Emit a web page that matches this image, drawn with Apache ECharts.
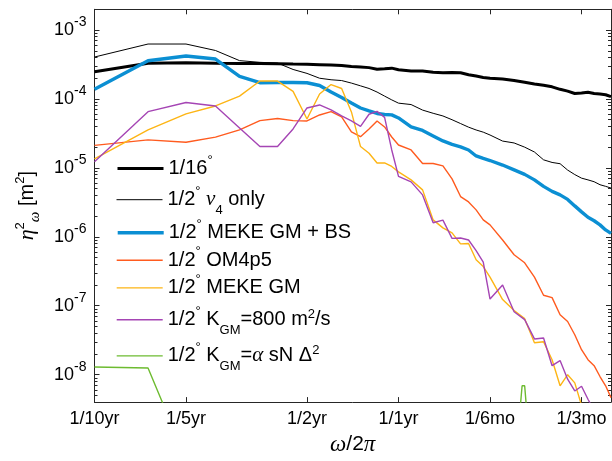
<!DOCTYPE html>
<html><head><meta charset="utf-8">
<script src="https://cdn.jsdelivr.net/npm/echarts@6/dist/echarts.min.js"></script>
<style>html,body{margin:0;padding:0;background:#fff}#c{width:612px;height:461px}</style>
</head><body><div id="c"></div>
<script>
// ---------- data (frequency in cycles per year, spectra in m^2) ----------
const freq = [0.1,0.15,0.2,0.25,0.3,0.35,0.4,0.45,0.5,0.55,0.6,0.65,0.7,0.75,0.8,0.85,0.9,0.95,1.0,
  1.1,1.2,1.3,1.4,1.5,1.6,1.7,1.8,1.9,2.0,
  2.2,2.4,2.6,2.8,3.0,3.2,3.4,3.6,3.8,4.0,4.2,4.4,4.6,4.8,5.0];
const res16 = [2.49e-4,3.3e-4,3.35e-4,3.3e-4,3.28e-4,3.27e-4,3.25e-4,3.22e-4,3.2e-4,3.15e-4,3.1e-4,3.05e-4,2.95e-4,2.9e-4,2.85e-4,2.7e-4,2.75e-4,2.8e-4,2.65e-4,
  2.55e-4,2.55e-4,2.45e-4,2.4e-4,2.42e-4,2.4e-4,2.25e-4,2.15e-4,2.05e-4,2.0e-4,
  1.95e-4,1.85e-4,1.75e-4,1.65e-4,1.58e-4,1.5e-4,1.38e-4,1.3e-4,1.2e-4,1.22e-4,1.25e-4,1.2e-4,1.18e-4,1.15e-4,1.08e-4];
const nu4Only = [4.06e-4,6.27e-4,6.27e-4,5.05e-4,3.6e-4,3.4e-4,3.32e-4,2.68e-4,2.35e-4,2.0e-4,1.9e-4,1.85e-4,1.7e-4,1.55e-4,1.42e-4,1.26e-4,1.1e-4,9.7e-5,8.7e-5,
  8.3e-5,6.9e-5,6.2e-5,5.67e-5,5.0e-5,4.4e-5,3.9e-5,3.55e-5,3.3e-5,3.0e-5,
  2.45e-5,2.3e-5,2.0e-5,1.7e-5,1.31e-5,1.2e-5,1.15e-5,9.3e-6,8.0e-6,7.1e-6,6.7e-6,6.3e-6,5.7e-6,5.4e-6,5.1e-6];
const mekeGmBs = [1.38e-4,3.59e-4,4.2e-4,3.8e-4,2.12e-4,1.72e-4,1.73e-4,1.73e-4,1.72e-4,1.57e-4,1.26e-4,1.05e-4,8.75e-5,7.4e-5,6.7e-5,6.16e-5,5.96e-5,5.87e-5,5.3e-5,
  3.93e-5,3.49e-5,2.91e-5,2.46e-5,2.19e-5,2.02e-5,1.82e-5,1.49e-5,1.37e-5,1.28e-5,
  1.1e-5,9.35e-6,8.05e-6,6.7e-6,5.4e-6,4.56e-6,4.06e-6,3.49e-6,2.81e-6,2.3e-6,1.92e-6,1.71e-6,1.49e-6,1.26e-6,1.12e-6];
const om4p5 = [2.12e-5,2.55e-5,2.36e-5,2.79e-5,3.56e-5,4.85e-5,5.22e-5,4.85e-5,4.8e-5,5.86e-5,6.55e-5,5.48e-5,3.32e-5,2.84e-5,3.67e-5,4.8e-5,3.93e-5,2.81e-5,2.15e-5,
  1.82e-5,1.16e-5,1.16e-5,1.07e-5,6.93e-6,3.84e-6,3.21e-6,2.46e-6,1.76e-6,1.49e-6,
  9.0e-7,5.5e-7,4.2e-7,2.6e-7,1.42e-7,1.31e-7,7.4e-8,5.9e-8,3.8e-8,2.3e-8,1.65e-8,1.35e-8,9.4e-9,6.9e-9,4.65e-9];
const mekeGm = [1.35e-5,3.56e-5,6.07e-5,7.92e-5,1.1e-4,1.82e-4,1.82e-4,1.29e-4,5.13e-5,1.18e-4,1.62e-4,1.42e-4,6.49e-5,2.04e-5,1.63e-5,1.18e-5,1.18e-5,1.05e-5,8.75e-6,
  6.7e-6,4.8e-6,1.76e-6,1.35e-6,1.14e-6,7.9e-7,8.0e-7,4.65e-7,3.7e-7,2.6e-7,
  1.23e-7,8.5e-8,6.5e-8,2.9e-8,3.0e-8,1.65e-8,6.9e-9,1.0e-8,7.6e-9,3.6e-9,2.5e-9,2.0e-9,1.6e-9,1.3e-9,1.0e-9];
const kgm800 = [1.23e-5,6.55e-5,8.9e-5,7.92e-5,3.8e-5,2.04e-5,2.04e-5,3.67e-5,7.41e-5,8.19e-5,6.93e-5,5.67e-5,4.8e-5,4.0e-5,6.0e-5,6.6e-5,5.4e-5,1.82e-5,7.54e-6,
  6.27e-6,4.06e-6,1.6e-6,1.75e-6,9.5e-7,9.6e-7,9.0e-7,6.3e-7,4.3e-7,1.25e-7,
  2.0e-7,8.2e-8,6.3e-8,3.3e-8,3.4e-8,1.35e-8,1.6e-8,8.6e-9,5.8e-9,6.8e-9,4.4e-9,3.0e-9,2.2e-9,1.7e-9,1.3e-9];
const freqAlpha = [0.1,0.15,0.2,2.5,2.55,2.6,2.65];
const kgmAlpha = [1.29e-8,1.25e-8,6e-10,2.5e-9,6.9e-9,6.9e-9,2.5e-9];

const seriesNames = ['1/16','nu4 only','MEKE GM + BS','OM4p5','MEKE GM','KGM=800','KGM=alpha'];
const xTickVals = [0.1,0.2,0.5,1,2,4];
const xTickLabels = ['1/10yr','1/5yr','1/2yr','1/1yr','1/6mo','1/3mo'];
const yTickVals = [1e-8,1e-7,1e-6,1e-5,1e-4,1e-3];
const yTickExps = ['-8','-7','-6','-5','-4','-3'];

// ---------- styling ----------
const colors = ['#000000','#000000','#0B8FD3','#FF5B1F','#FDB515','#A545B4','#6DBB30'];
const widths = [3,1,3.4,1.4,1.4,1.4,1.4];
const legendTexts = [
  '{n|1/16}{deg|°}',
  '{n|1/2}{deg|°}{n| }{gi|ν}{sub|4}{n| only}',
  '{n|1/2}{deg|°}{n| MEKE GM + BS}',
  '{n|1/2}{deg|°}{n| OM4p5}',
  '{n|1/2}{deg|°}{n| MEKE GM}',
  '{n|1/2}{deg|°}{n| K}{sub|GM}{n|=800 m}{sup|2}{n|/s}',
  '{n|1/2}{deg|°}{n| K}{sub|GM}{n|=}{gi|α}{n| sN Δ}{sup|2}'
];
const legendCenters = [173.3,204.5,237.5,265,292.7,324.5,360.7];
const xData = [freq,freq,freq,freq,freq,freq,freqAlpha];
const yData = [res16,nu4Only,mekeGmBs,om4p5,mekeGm,kgm800,kgmAlpha];

const SANS = '"Liberation Sans", Arial, Helvetica, sans-serif';
const SERIF = '"Liberation Serif", "DejaVu Serif", serif';
const AX = '#262626';
const richLegend = {
  n:{fontSize:20,fontFamily:SANS,color:'#000',verticalAlign:'middle'},
  deg:{fontSize:13,fontFamily:SANS,color:'#000',verticalAlign:'middle',padding:[0,0,17,0]},
  sup:{fontSize:13,fontFamily:SANS,color:'#000',verticalAlign:'middle',padding:[0,0,10,0]},
  sub:{fontSize:13,fontFamily:SANS,color:'#000',verticalAlign:'middle',padding:[22,0,0,0]},
  gi:{fontSize:21,fontFamily:SERIF,fontStyle:'italic',color:'#000',verticalAlign:'middle'}
};

const minorVals = [];
for (let d = -9; d <= -3; d++) {
  for (let k = 2; k <= 9; k++) {
    const v = Number((k * Math.pow(10, d)).toPrecision(3));
    if (v >= 4e-9 && v <= 2e-3) minorVals.push(v);
  }
}

function pairs(xs, ys){ return xs.map((x,i)=>[x, ys[i]]); }
function xLabel(v){
  const i = xTickVals.findIndex(t => Math.abs(t - v) < 1e-6 * t);
  return i >= 0 ? xTickLabels[i] : '';
}
function yLabel(v){
  const i = yTickVals.findIndex(t => Math.abs(t - v) < 1e-6 * t);
  return i >= 0 ? '{b|10}{s|' + yTickExps[i] + '}' : '';
}

const YMIN = 4e-9, YMAX = 2e-3, XMIN = 0.1, XMAX = 5;
function yAx(pos, vals, len, showLine, label){
  return {type:'log', logBase:10, min:YMIN, max:YMAX, position:pos,
    axisLine:{show:showLine, onZero:false, lineStyle:{color:AX,width:1}},
    axisTick:{show:true, inside:true, length:len, customValues:vals, lineStyle:{color:AX,width:1}},
    axisLabel: label ? {show:true, customValues:vals, margin:8, formatter:yLabel,
      rich:{b:{fontSize:18,fontFamily:SANS,color:'#000',verticalAlign:'middle'},
            s:{fontSize:14,fontFamily:SANS,color:'#000',verticalAlign:'middle',padding:[0,0,16,0]}}} : {show:false},
    splitLine:{show:false}, minorTick:{show:false}};
}
const yAxes = [yAx('left', yTickVals, 5, true, true), yAx('left', minorVals, 3, false, false),
               yAx('right', yTickVals, 5, true, false), yAx('right', minorVals, 3, false, false)];
yAxes[0].name = '{gi|η}{sup|2}{sub|ω}{n| [m}{sup|2}{n|]}';
yAxes[0].nameLocation = 'middle';
yAxes[0].nameRotate = 90;
yAxes[0].nameGap = 52;
yAxes[0].nameTextStyle = {rich:{
  n:{fontSize:20,fontFamily:SANS,color:'#000',verticalAlign:'middle'},
  sup:{fontSize:13,fontFamily:SANS,color:'#000',verticalAlign:'middle',padding:[0,0,14,0]},
  sub:{fontSize:15,fontFamily:SERIF,fontStyle:'italic',color:'#000',verticalAlign:'middle',padding:[16,0,0,0]},
  gi:{fontSize:22,fontFamily:SERIF,fontStyle:'italic',color:'#000',verticalAlign:'middle'}}};

function xAx(pos, label){
  return {type:'log', logBase:10, min:XMIN, max:XMAX, position:pos,
    axisLine:{show:true, onZero:false, lineStyle:{color:AX,width:1}},
    axisTick:{show:true, inside:true, length:5, customValues:xTickVals, lineStyle:{color:AX,width:1}},
    axisLabel: label ? {show:true, customValues:xTickVals, margin:8, formatter:xLabel,
      fontSize:18, fontFamily:SANS, color:'#000'} : {show:false},
    splitLine:{show:false}, minorTick:{show:false}};
}
const xAxes = [xAx('bottom', true), xAx('top', false)];
xAxes[0].name = '{gi|ω}{n|/2}{gi|π}';
xAxes[0].nameLocation = 'middle';
xAxes[0].nameGap = 25;
xAxes[0].nameTextStyle = {rich:{
  n:{fontSize:21,fontFamily:SANS,color:'#000',verticalAlign:'middle'},
  gi:{fontSize:23,fontFamily:SERIF,fontStyle:'italic',color:'#000',verticalAlign:'middle'}}};

const chart = echarts.init(document.getElementById('c'), null, {renderer:'canvas'});
chart.setOption({
  animation:false,
  backgroundColor:'#fff',
  grid:{left:94.5, top:9.3, right:1, bottom:58.3, containLabel:false},
  xAxis: xAxes,
  yAxis: yAxes,
  legend: seriesNames.map((n,i)=>({
    data:[n], left:116, top:legendCenters[i]-24, orient:'vertical', padding:0,
    itemWidth:46, itemHeight:48, selectedMode:false,
    formatter: () => legendTexts[i],
    textStyle:{rich:richLegend},
    itemStyle:{opacity:0, borderWidth:0},
    lineStyle:{width:widths[i], color:colors[i], opacity:1}
  })),
  series: seriesNames.map((n,i)=>({
    name:n, type:'line', xAxisIndex:0, yAxisIndex:0,
    data: pairs(xData[i], yData[i]),
    symbol:'none', showSymbol:false, clip:true, silent:true,
    lineStyle:{color:colors[i], width:widths[i]},
    itemStyle:{color:colors[i]},
    emphasis:{disabled:true},
    z: 2 + i
  }))
});
</script></body></html>
